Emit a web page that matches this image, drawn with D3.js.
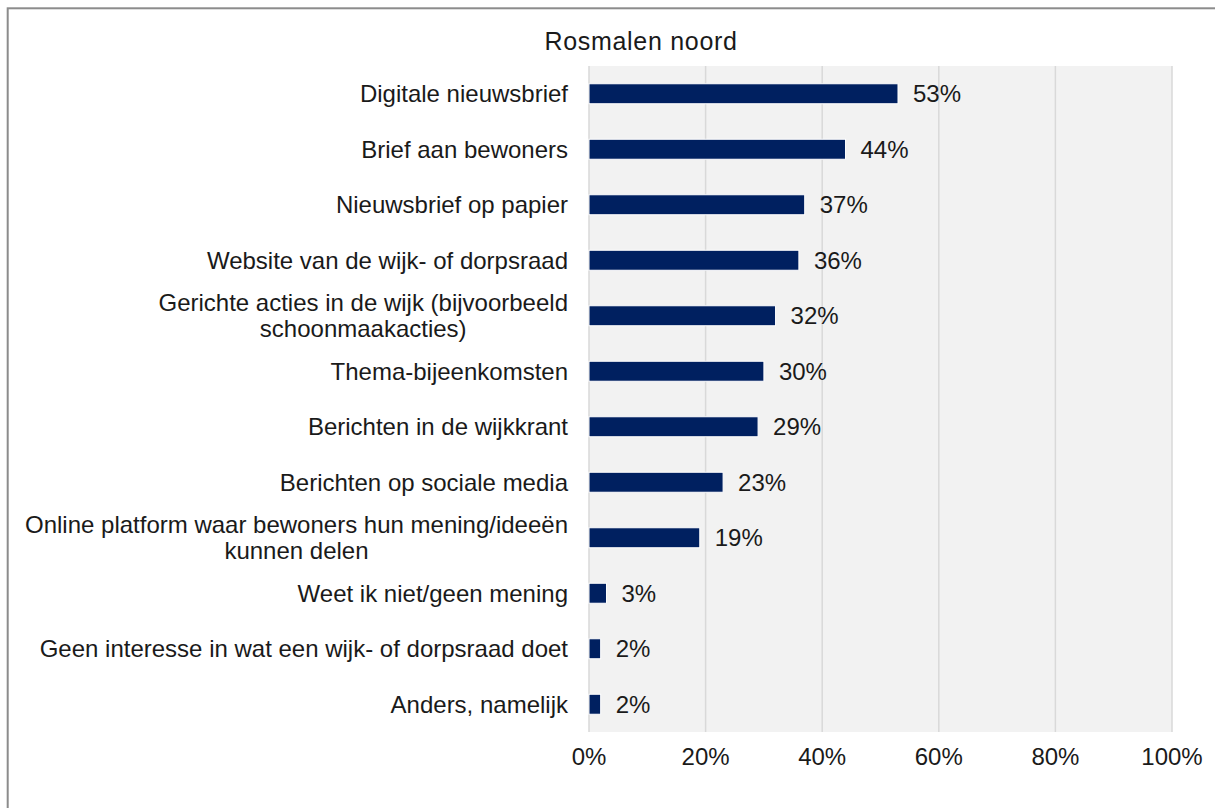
<!DOCTYPE html>
<html>
<head>
<meta charset="utf-8">
<script src="https://cdn.jsdelivr.net/npm/d3@7"></script>
<style>
	body { margin: 0; background: #fff; }
	text { font-family: "Liberation Sans", Arial, sans-serif; fill: #1a1a1a; }
</style>
</head>
<body>
<div id="chart"></div>
<script>
var categories = [
	"Digitale nieuwsbrief",
	"Brief aan bewoners",
	"Nieuwsbrief op papier",
	"Website van de wijk- of dorpsraad",
	"Gerichte acties in de wijk (bijvoorbeeld\nschoonmaakacties)",
	"Thema-bijeenkomsten",
	"Berichten in de wijkkrant",
	"Berichten op sociale media",
	"Online platform waar bewoners hun mening/ideeën\nkunnen delen",
	"Weet ik niet/geen mening",
	"Geen interesse in wat een wijk- of dorpsraad doet",
	"Anders, namelijk"
];
var values = [53, 44, 37, 36, 32, 30, 29, 23, 19, 3, 2, 2];
var xTicks = [0, 20, 40, 60, 80, 100];
var title = "Rosmalen noord";

var width = 1215, height = 808;
var plotLeft = 589, plotRight = 1172, plotTop = 66, plotBottom = 732;

var svg = d3.select("#chart")
	.append("svg")
	.attr("width", width)
	.attr("height", height)
;

/*
	Outer frame
*/
svg.append("rect")
	.attr("x", 7.7)
	.attr("y", 8.3)
	.attr("width", width)
	.attr("height", height)
	.attr("fill", "#fff")
	.attr("stroke", "#8c8c8c")
	.attr("stroke-width", 2)
;

var xScale = d3.scaleLinear()
	.domain([0, 100])
	.range([plotLeft, plotRight])
;

var yScale = d3.scaleBand()
	.domain(d3.range(categories.length))
	.range([plotTop, plotBottom])
	.paddingInner(0.64)
	.paddingOuter(0.32)
;

// plot background
svg.append("rect")
	.attr("x", plotLeft)
	.attr("y", plotTop)
	.attr("width", plotRight - plotLeft)
	.attr("height", plotBottom - plotTop)
	.attr("fill", "#f2f2f2")
;

// gridlines
svg.selectAll("line.grid")
	.data(xTicks)
	.enter()
	.append("line")
	.attr("class", "grid")
	.attr("x1", function(d) { return xScale(d); })
	.attr("x2", function(d) { return xScale(d); })
	.attr("y1", plotTop)
	.attr("y2", plotBottom)
	.attr("stroke", "#d9d9d9")
	.attr("stroke-width", 1.5)
;

// bars
svg.selectAll("rect.bar")
	.data(values)
	.enter()
	.append("rect")
	.attr("class", "bar")
	.attr("x", xScale(0))
	.attr("y", function(d, i) { return yScale(i); })
	.attr("width", function(d) { return xScale(d) - xScale(0); })
	.attr("height", yScale.bandwidth())
	.attr("fill", "#002060")
	.attr("stroke", "#fff")
	.attr("stroke-width", 1)
;

// value labels
svg.selectAll("text.value")
	.data(values)
	.enter()
	.append("text")
	.attr("class", "value")
	.attr("x", function(d) { return xScale(d) + 15; })
	.attr("y", function(d, i) { return yScale(i) + yScale.bandwidth() / 2; })
	.attr("dy", "0.35em")
	.attr("font-size", "24px")
	.text(function(d) { return d + "%"; })
;

/*
	Category labels, multi-line ones centred on their longest line
*/
var labelRight = 568, lineHeight = 26;
categories.forEach(function(c, i) {
	var lines = c.split("\n");
	var cy = yScale(i) + yScale.bandwidth() / 2;
	var g = svg.append("g");
	var texts = lines.map(function(l, j) {
		return g.append("text")
			.attr("font-size", "24px")
			.attr("y", cy + (j - (lines.length - 1) / 2) * lineHeight)
			.attr("dy", "0.35em")
			.text(l);
	});
	var maxW = d3.max(texts, function(t) { return t.node().getComputedTextLength(); });
	texts.forEach(function(t) {
		t.attr("text-anchor", "middle").attr("x", labelRight - maxW / 2);
	});
});

// x axis labels
svg.selectAll("text.xAxis")
	.data(xTicks)
	.enter()
	.append("text")
	.attr("class", "xAxis")
	.attr("x", function(d) { return xScale(d); })
	.attr("y", 757)
	.attr("dy", "0.35em")
	.attr("text-anchor", "middle")
	.attr("font-size", "24px")
	.text(function(d) { return d + "%"; })
;

// title
svg.append("text")
	.attr("x", 641)
	.attr("y", 41)
	.attr("dy", "0.35em")
	.attr("text-anchor", "middle")
	.attr("font-size", "25px")
	.attr("letter-spacing", "0.7px")
	.text(title)
;
</script>
</body>
</html>
